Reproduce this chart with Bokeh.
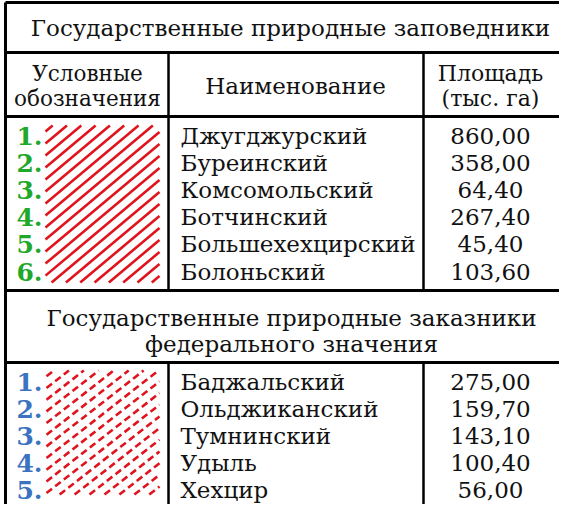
import math
from bokeh.plotting import figure
from bokeh.models import Range1d
from bokeh.core.properties import value
from bokeh.embed import file_html
from bokeh.resources import INLINE

# ---- data ----
title_1 = "Государственные природные заповедники"
header_legend = ["Условные", "обозначения"]
header_name = "Наименование"
header_area = ["Площадь", "(тыс. га)"]
reserve_nums = ["1.", "2.", "3.", "4.", "5.", "6."]
reserve_names = ["Джугджурский", "Буреинский", "Комсомольский", "Ботчинский",
                 "Большехехцирский", "Болоньский"]
reserve_area = [860.00, 358.00, 64.40, 267.40, 45.40, 103.60]
title_2 = ["Государственные природные заказники", "федерального значения"]
zak_nums = ["1.", "2.", "3.", "4.", "5."]
zak_names = ["Баджальский", "Ольджиканский", "Тумнинский", "Удыль", "Хехцир"]
zak_area = [275.00, 159.70, 143.10, 100.40, 56.00]

FONT = value("DejaVu Serif")
FS = "23px"
RED = "#e0141e"
GREEN = "#1fa82a"
BLUE = "#3b73c0"

def fmt(v):
    return f"{v:.2f}".replace(".", ",")

p = figure(width=559, height=504, x_range=Range1d(8, 567), y_range=Range1d(512, 8),
           output_backend="svg", toolbar_location=None,
           x_axis_location=None, y_axis_location=None, min_border=0)
p.grid.visible = False
p.outline_line_color = None
p.background_fill_color = "white"
p.border_fill_color = "white"

# ---- geometry ----
L, R = 13, 572
C1, C2 = 176, 431
Y_TOP, Y_T1, Y_H, Y_S1, Y_T2, Y_BOT = 10, 60, 124, 298, 370, 520

# horizontal rules
p.segment(x0=[L] * 5, x1=[R] * 5, y0=[Y_TOP, Y_T1, Y_H, Y_S1, Y_T2],
          y1=[Y_TOP, Y_T1, Y_H, Y_S1, Y_T2], line_color="black", line_width=3)
# vertical rules
p.segment(x0=[L], x1=[L], y0=[Y_TOP], y1=[Y_BOT], line_color="black", line_width=3)
p.segment(x0=[C1, C2, C1, C2], x1=[C1, C2, C1, C2],
          y0=[Y_T1, Y_T1, Y_T2, Y_T2], y1=[Y_S1, Y_S1, Y_BOT, Y_BOT],
          line_color="black", line_width=2.5)

# ---- hatch helper ----
def hatch(x0, x1, y0, y1, ang_deg, step):
    a = math.radians(ang_deg)
    dx, dy = math.cos(a), -math.sin(a)
    nx, ny = math.sin(a), math.cos(a)
    cs = [x * nx + y * ny for x in (x0, x1) for y in (y0, y1)]
    cmin, cmax = min(cs), max(cs)
    xs, ys = [], []
    c = cmin + step * 0.5
    while c < cmax:
        bx, by = c * nx, c * ny
        tmin, tmax = -1e9, 1e9
        ok = True
        for p0, d, lo, hi in ((bx, dx, x0, x1), (by, dy, y0, y1)):
            if abs(d) < 1e-12:
                if p0 < lo or p0 > hi:
                    ok = False
            else:
                t1, t2 = (lo - p0) / d, (hi - p0) / d
                tmin = max(tmin, min(t1, t2))
                tmax = min(tmax, max(t1, t2))
        if ok and tmax - tmin > 2:
            xs.append([bx + tmin * dx, bx + tmax * dx])
            ys.append([by + tmin * dy, by + tmax * dy])
        c += step
    return xs, ys

hx, hy = hatch(53, 167, 133, 290, 40, 9.2)
p.multi_line(xs=hx, ys=hy, line_color=RED, line_width=2.6)
hx2, hy2 = hatch(54, 167, 378, 502, 38, 9.2)
p.multi_line(xs=hx2, ys=hy2, line_color=RED, line_width=2.6, line_dash="7 4")

# ---- texts ----
def txt(x, y, t, align="center", color="#111111", style="normal", size=FS):
    p.text(x=x, y=y, text=t, text_align=align, text_baseline="middle",
           text_font=FONT, text_font_size=size, text_color=color,
           text_font_style=style)

txt([298], [35], [title_1])
txt([95, 95], [81, 106], header_legend, size="21.5px")
txt([303], [93], [header_name])
txt([498, 498], [81, 106], header_area, size="22px")

ROW1 = 27.2
y1 = [143 + ROW1 * i for i in range(len(reserve_names))]
txt([37] * len(y1), y1, reserve_nums, color=GREEN, style="bold", size="25px")
txt([188] * len(y1), y1, reserve_names, align="left")
txt([498] * len(y1), y1, [fmt(v) for v in reserve_area])

txt([299, 299], [325, 351], title_2)

ROW2 = 27.0
y2 = [389 + ROW2 * i for i in range(len(zak_names))]
txt([37] * len(y2), y2, zak_nums, color=BLUE, style="bold", size="25px")
txt([188] * len(y2), y2, zak_names, align="left")
txt([498] * len(y2), y2, [fmt(v) for v in zak_area])

open("out.html", "w").write(file_html(p, INLINE))
